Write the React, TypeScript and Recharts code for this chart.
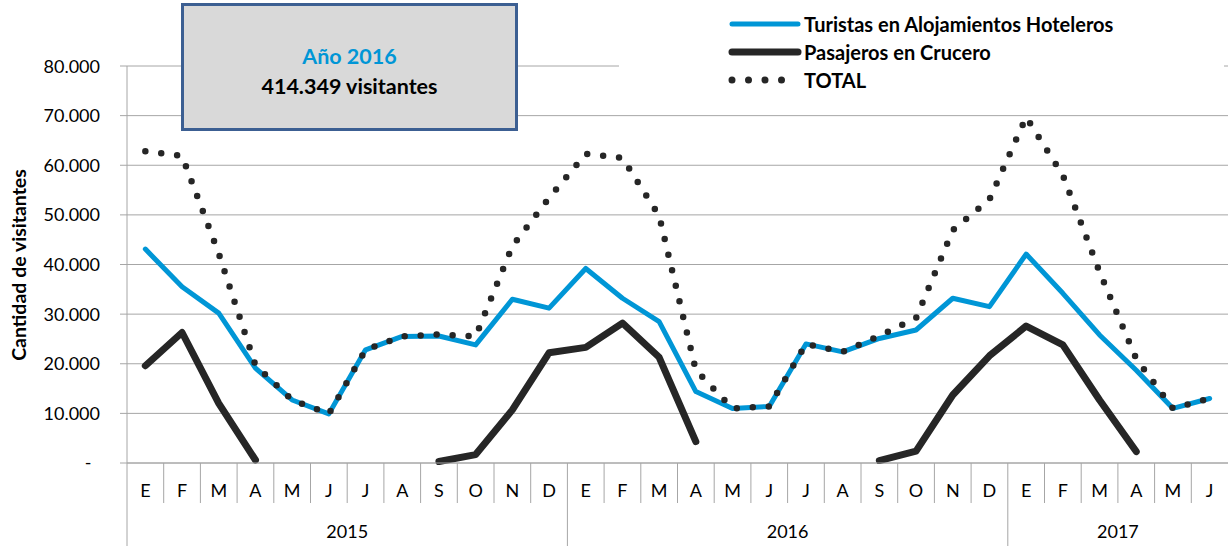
import { CartesianGrid, Legend, Line, LineChart, XAxis, YAxis } from "recharts";

const meses = [
  "E", "F", "M", "A", "M", "J", "J", "A", "S", "O", "N", "D",
  "E", "F", "M", "A", "M", "J", "J", "A", "S", "O", "N", "D",
  "E", "F", "M", "A", "M", "J",
];

const anios = [
  "2015", "2015", "2015", "2015", "2015", "2015", "2015", "2015", "2015", "2015", "2015", "2015",
  "2016", "2016", "2016", "2016", "2016", "2016", "2016", "2016", "2016", "2016", "2016", "2016",
  "2017", "2017", "2017", "2017", "2017", "2017",
];

const turistas = [
  43100, 35500, 30200, 19100, 12700, 9900, 22800, 25500, 25600, 23800, 33000, 31200,
  39200, 33200, 28500, 14400, 11000, 11400, 24000, 22400, 25100, 26800, 33200, 31500,
  42100, 34200, 25800, 18700, 11000, 13000,
];

const crucero: (number | null)[] = [
  19600, 26300, 12000, 600, null, null, null, null, 300, 1700, 10700, 22200,
  23300, 28200, 21300, 4300, null, null, null, null, 500, 2400, 13700, 21600,
  27600, 23800, 12700, 2300, null, null,
];

const total = [
  62800, 61900, 42200, 19700, 12700, 9900, 22800, 25500, 25900, 25500, 43700, 53400,
  62300, 61500, 49800, 18700, 11000, 11400, 24000, 22400, 25600, 29200, 46900, 53100,
  69700, 58000, 38500, 21000, 11000, 13000,
];

const yTicks = [0, 10000, 20000, 30000, 40000, 50000, 60000, 70000, 80000];

const WIDTH = 1228;
const HEIGHT = 546;
const LEFT = 127;
const TOP = 66;
const AXIS_Y = 463;
const BAND = (WIDTH - LEFT) / meses.length;

const FONT = "Lato, 'Open Sans', sans-serif";
const GRID = "#a6a6a6";
const AZUL = "#0096d6";
const NEGRO = "#262626";

const data = meses.map((mes, i) => ({
  id: i,
  mes,
  anio: anios[i],
  turistas: turistas[i],
  crucero: crucero[i],
  total: total[i],
}));

const series = [
  { key: "turistas", name: "Turistas en Alojamientos Hoteleros", color: AZUL, width: 5, dots: false },
  { key: "crucero", name: "Pasajeros en Crucero", color: NEGRO, width: 7, dots: false },
  { key: "total", name: "TOTAL", color: NEGRO, width: 7, dots: true },
];

function miles(v: number) {
  return String(v).replace(/\B(?=(\d{3})+(?!\d))/g, ".");
}

function ValueTick(props: any) {
  const { y, payload } = props;
  if (payload.value === 0) {
    return (
      <text x={88} y={y + 6} textAnchor="middle" fontFamily={FONT} fontSize={18} fill="#000">
        -
      </text>
    );
  }
  return (
    <text x={100} y={y + 6.5} textAnchor="end" fontFamily={FONT} fontSize={18} fill="#000">
      {miles(payload.value)}
    </text>
  );
}

function MonthTick(props: any) {
  const { x, payload } = props;
  const i = Number(payload.value);
  const left = x - BAND / 2;
  const yearStart = i === 0 || anios[i] !== anios[i - 1];
  const count = anios.filter((a) => a === anios[i]).length;
  return (
    <g>
      <line x1={left} y1={AXIS_Y} x2={left} y2={yearStart ? HEIGHT : 503} stroke={GRID} />
      <text x={x} y={497} textAnchor="middle" fontFamily={FONT} fontSize={18} fill="#000">
        {meses[i]}
      </text>
      {yearStart && (
        <text x={left + (count * BAND) / 2} y={538} textAnchor="middle" fontFamily={FONT} fontSize={18} fill="#000">
          {anios[i]}
        </text>
      )}
    </g>
  );
}

function LegendBox() {
  return (
    <div style={{ paddingLeft: 109, paddingTop: 10, fontFamily: FONT, fontWeight: 700, fontSize: 20 }}>
      {series.map((s) => (
        <div key={s.key} style={{ display: "flex", alignItems: "center", height: 28 }}>
          <svg width={76} height={14} style={{ marginRight: 0 }}>
            <line
              x1={4}
              y1={7}
              x2={70}
              y2={7}
              stroke={s.color}
              strokeWidth={s.dots ? 7 : s.width}
              strokeLinecap="round"
              strokeDasharray={s.dots ? "0 16.5" : undefined}
            />
          </svg>
          <span>{s.name}</span>
        </div>
      ))}
    </div>
  );
}

export default function App() {
  return (
    <div style={{ position: "absolute", left: 0, top: 0, width: WIDTH, height: HEIGHT, background: "#fff" }}>
      <LineChart width={WIDTH} height={HEIGHT} data={data} margin={{ top: TOP, right: 0, bottom: 0, left: 0 }}>
        <CartesianGrid vertical={false} stroke={GRID} />
        <XAxis
          dataKey="id"
          scale="band"
          interval={0}
          tickLine={false}
          axisLine={{ stroke: GRID }}
          height={HEIGHT - AXIS_Y}
          tick={MonthTick}
        />
        <YAxis
          width={LEFT}
          domain={[0, 80000]}
          ticks={yTicks}
          interval={0}
          tickSize={7}
          tickLine={{ stroke: GRID }}
          axisLine={{ stroke: GRID }}
          tick={ValueTick}
        />
        <Legend
          layout="vertical"
          align="center"
          verticalAlign="middle"
          content={() => <LegendBox />}
          wrapperStyle={{ position: "absolute", left: 619, top: 0, width: 605, height: 98, background: "#fff" }}
        />
        {series.map((s) => (
          <Line
            key={s.key}
            type="linear"
            dataKey={s.key}
            name={s.name}
            stroke={s.color}
            strokeWidth={s.dots ? 6.5 : s.width}
            strokeLinecap="round"
            strokeLinejoin="round"
            strokeDasharray={s.dots ? "0 16" : undefined}
            dot={false}
            activeDot={false}
            connectNulls={false}
            isAnimationActive={false}
          />
        ))}
      </LineChart>
      <div
        style={{
          position: "absolute",
          left: 18,
          top: 265,
          transform: "translate(-50%, -50%) rotate(-90deg)",
          whiteSpace: "nowrap",
          fontFamily: FONT,
          fontWeight: 700,
          fontSize: 19.5,
          color: "#000",
        }}
      >
        Cantidad de visitantes
      </div>
      <div
        style={{
          position: "absolute",
          left: 181,
          top: 3,
          width: 337,
          height: 128,
          boxSizing: "border-box",
          border: "3px solid #3c5f92",
          background: "#d9d9d9",
          paddingTop: 35,
          textAlign: "center",
          fontFamily: FONT,
          fontWeight: 700,
          fontSize: 21.5,
          lineHeight: "30px",
        }}
      >
        <div style={{ color: AZUL }}>Año 2016</div>
        <div style={{ color: "#000" }}>414.349 visitantes</div>
      </div>
    </div>
  );
}
